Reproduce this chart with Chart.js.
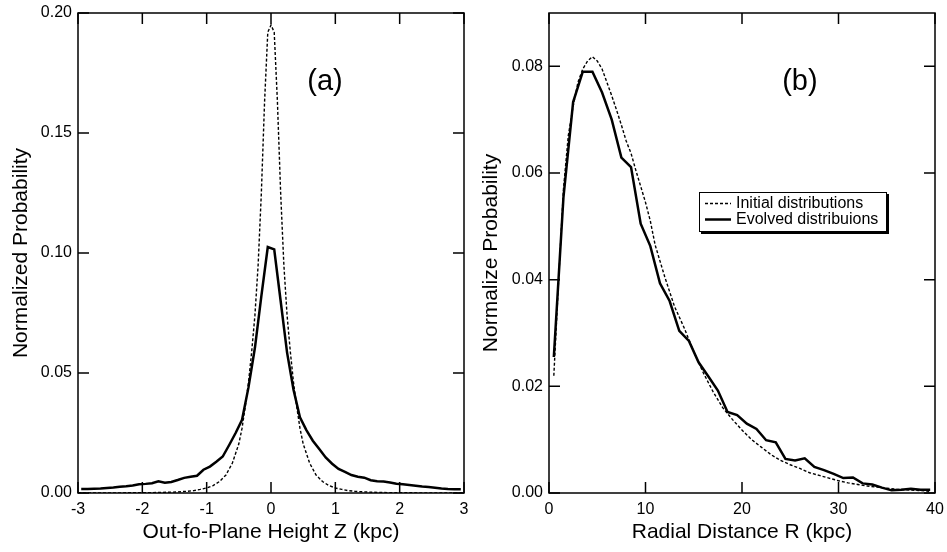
<!DOCTYPE html>
<html><head><meta charset="utf-8">
<script src="https://cdn.jsdelivr.net/npm/chart.js@4.4.1/dist/chart.umd.min.js"></script>
<style>
html,body{margin:0;padding:0;background:#fff;width:947px;height:552px;overflow:hidden;}
canvas{position:absolute;top:0;}
#ca{left:0;} #cb{left:470px;}
</style></head><body>
<canvas id="ca" width="470" height="552"></canvas>
<canvas id="cb" width="477" height="552"></canvas>
<script>
// ---------- Panel (a): out-of-plane height ----------
const zEvolved = [-2.95,-2.85,-2.75,-2.65,-2.55,-2.45,-2.35,-2.25,-2.15,-2.05,
  -1.95,-1.85,-1.75,-1.65,-1.55,-1.45,-1.35,-1.25,-1.15,-1.05,
  -0.95,-0.85,-0.75,-0.65,-0.55,-0.45,-0.35,-0.25,-0.15,-0.05,
  0.05,0.15,0.25,0.35,0.45,0.55,0.65,0.75,0.85,0.95,
  1.05,1.15,1.25,1.35,1.45,1.55,1.65,1.75,1.85,1.95,
  2.05,2.15,2.25,2.35,2.45,2.55,2.65,2.75,2.85,2.95];
const pEvolvedZ = [0.0017,0.0017,0.0018,0.0019,0.0021,0.0023,0.0026,0.0028,0.0031,0.0036,
  0.0038,0.0041,0.0049,0.0043,0.0046,0.0054,0.0063,0.0068,0.0072,0.0097,
  0.0110,0.0130,0.0152,0.0200,0.0250,0.0305,0.0440,0.0605,0.0820,0.1025,
  0.1015,0.0800,0.0585,0.0430,0.0315,0.0262,0.0218,0.0183,0.0148,0.0122,
  0.0100,0.0088,0.0075,0.0068,0.0064,0.0053,0.0049,0.0048,0.0044,0.0039,
  0.0036,0.0033,0.0030,0.0027,0.0025,0.0022,0.0019,0.0017,0.0016,0.0016];
const zInitial = [-3,-2.5,-2,-1.75,-1.5,-1.3,-1.2,-1.1,-1.0,-0.9,-0.8,-0.7,-0.6,-0.5,-0.45,-0.4,-0.35,-0.3,-0.25,-0.2,-0.15,-0.1,-0.05,
  0,0.05,0.1,0.15,0.2,0.25,0.3,0.35,0.4,0.45,0.5,0.6,0.7,0.8,0.9,1.0,1.1,1.2,1.3,1.5,1.75,2,2.5,3];
const pInitialZ = [0,0.00005,0.0001,0.0002,0.0004,0.0007,0.0010,0.0015,0.0021,0.0031,0.0048,0.0075,0.0125,0.0205,0.027,0.036,0.046,0.059,0.074,0.095,0.125,0.163,0.192,
  0.195,0.192,0.163,0.125,0.095,0.074,0.059,0.046,0.036,0.027,0.0205,0.0125,0.0075,0.0048,0.0031,0.0021,0.0015,0.0010,0.0007,0.0004,0.0002,0.0001,0.00005,0];
const zTicks = {min: -3, max: 3, step: 1};
const pzTicks = {min: 0, max: 0.20, step: 0.05};

// ---------- Panel (b): radial distance ----------
const rEvolved = [0.5,1.5,2.5,3.5,4.5,5.5,6.5,7.5,8.5,9.5,10.5,11.5,12.5,13.5,14.5,15.5,16.5,17.5,18.5,19.5,
  20.5,21.5,22.5,23.5,24.5,25.5,26.5,27.5,28.5,29.5,30.5,31.5,32.5,33.5,34.5,35.5,36.5,37.5,38.5,39.5];
const pEvolvedR = [0.0255,0.0555,0.0733,0.0790,0.0790,0.0751,0.0700,0.0629,0.0611,0.0505,
  0.0463,0.0393,0.0360,0.0304,0.0285,0.0245,0.0219,0.0192,0.0152,0.0146,
  0.0130,0.0120,0.0099,0.0095,0.0064,0.0061,0.0065,0.0049,0.0043,0.0036,
  0.0028,0.0029,0.0018,0.0016,0.0010,0.0005,0.0006,0.0008,0.0006,0.0006];
const rInitial = [0.5,1,1.5,2,2.5,3,3.5,4,4.5,5,5.5,6,6.5,7,7.5,8,8.5,9,9.5,10,10.5,11,12,13,14,15,16,17,18,19,
  20,21,22,23,24,25,26,27,28,29,30,31,32,33,34,35,36,37,38,39,39.5];
const pInitialR = [0.022,0.040,0.057,0.067,0.0725,0.077,0.0795,0.081,0.0818,0.081,0.0795,0.077,0.0745,0.0718,0.069,0.066,0.0637,0.0605,0.0575,0.0545,0.051,0.0465,0.0405,0.035,0.031,0.0265,0.0225,0.0190,0.0160,0.0138,
  0.0118,0.0100,0.0086,0.0072,0.0061,0.0053,0.0046,0.0038,0.0033,0.0028,0.0023,0.0019,0.0016,0.0013,0.0011,0.0009,0.0007,0.0006,0.0005,0.0004,0.0003];
const rTicks = {min: 0, max: 40, step: 10};
const prTicks = {min: 0, max: 0.09, step: 0.02};

const labelsB = ['Initial distributions', 'Evolved distribuions'];

const FONT = "'Liberation Sans', Arial, Helvetica, sans-serif";
Chart.defaults.font.family = FONT;
Chart.defaults.color = '#000';

const toXY = (xs, ys) => xs.map((x, i) => ({x: x, y: ys[i]}));

const framePlugin = {
  id: 'frame',
  afterDatasetsDraw(chart, args, opts) {
    const {ctx, chartArea: a, scales} = chart;
    ctx.save();
    ctx.strokeStyle = '#000';
    ctx.lineWidth = 1.5;
    ctx.setLineDash([]);
    ctx.strokeRect(a.left, a.top, a.right - a.left, a.bottom - a.top);
    const L = 11;
    ctx.beginPath();
    scales.x.ticks.forEach(t => {
      const p = scales.x.getPixelForValue(t.value);
      ctx.moveTo(p, a.bottom); ctx.lineTo(p, a.bottom - L);
      ctx.moveTo(p, a.top); ctx.lineTo(p, a.top + L);
    });
    scales.y.ticks.forEach(t => {
      const p = scales.y.getPixelForValue(t.value);
      ctx.moveTo(a.left, p); ctx.lineTo(a.left + L, p);
      ctx.moveTo(a.right, p); ctx.lineTo(a.right - L, p);
    });
    ctx.stroke();
    // panel label
    ctx.fillStyle = '#000';
    ctx.font = '29px ' + FONT;
    ctx.textAlign = 'center';
    ctx.textBaseline = 'middle';
    ctx.fillText(opts.label, a.left + (a.right - a.left) * opts.lx, a.top + (a.bottom - a.top) * opts.ly);
    // legend
    if (opts.legend) {
      const bx = a.left + 150, by = a.top + 179, bw = 188, bh = 40;
      ctx.fillStyle = '#000';
      ctx.fillRect(bx + 2, by + 2, bw, bh);
      ctx.fillStyle = '#fff';
      ctx.fillRect(bx, by, bw, bh);
      ctx.lineWidth = 1;
      ctx.strokeStyle = '#000';
      ctx.strokeRect(bx + 0.5, by + 0.5, bw - 1, bh - 1);
      chart.data.datasets.forEach((ds, i) => {
        const y = by + 11.5 + i * 16;
        ctx.setLineDash(ds.borderDash || []);
        ctx.lineWidth = ds.borderWidth;
        ctx.strokeStyle = '#000';
        ctx.beginPath(); ctx.moveTo(bx + 6, y); ctx.lineTo(bx + 32, y); ctx.stroke();
        ctx.setLineDash([]);
        ctx.fillStyle = '#000';
        ctx.font = '16px ' + FONT;
        ctx.textAlign = 'left';
        ctx.textBaseline = 'middle';
        ctx.fillText(ds.label, bx + 37, y + 0.5);
      });
    }
    ctx.restore();
  }
};

function makeChart(id, cfg) {
  const xAxis = {
    type: 'linear', min: cfg.xt.min, max: cfg.xt.max,
    grid: {display: false, drawTicks: false},
    border: {display: false},
    ticks: {stepSize: cfg.xt.step, padding: 7, font: {size: 16}, color: '#000', maxRotation: 0,
      callback: v => String(v)},
    title: {display: true, text: cfg.xTitle, font: {size: 21}, color: '#000', padding: {top: 0, bottom: 7}},
    afterFit: s => { s.height = 59; s.paddingLeft = 0; s.paddingRight = 0; }
  };
  const yAxis = {
    type: 'linear', min: cfg.yt.min, max: cfg.yt.max,
    grid: {display: false, drawTicks: false},
    border: {display: false},
    ticks: {stepSize: cfg.yt.step, padding: 6, font: {size: 16}, color: '#000', includeBounds: false,
      callback: v => Number(v).toFixed(2)},
    title: {display: true, text: cfg.yTitle, font: {size: 21}, color: '#000', padding: {top: 9, bottom: 0}},
    afterFit: s => { s.width = cfg.yW; s.paddingTop = 0; s.paddingBottom = 0; }
  };
  return new Chart(document.getElementById(id), {
    type: 'line',
    data: {datasets: cfg.datasets},
    options: {
      responsive: false, animation: false, devicePixelRatio: 1,
      layout: {padding: {left: 0, top: 13, right: cfg.padR, bottom: 0}},
      plugins: {legend: {display: false}, tooltip: {enabled: false}, frame: cfg.frame},
      elements: {point: {radius: 0}, line: {tension: 0}},
      scales: {x: xAxis, y: yAxis}
    },
    plugins: [framePlugin]
  });
}

makeChart('ca', {
  xt: zTicks, yt: pzTicks, yW: 78, padR: 6,
  xTitle: 'Out-fo-Plane Height Z (kpc)', yTitle: 'Normalized Probability',
  frame: {label: '(a)', lx: 0.64, ly: 0.144, legend: false},
  datasets: [
    {label: 'Initial distributions', data: toXY(zInitial, pInitialZ), borderColor: '#000', borderWidth: 1.4, borderDash: [3, 2], fill: false},
    {label: 'Evolved distribuions', data: toXY(zEvolved, pEvolvedZ), borderColor: '#000', borderWidth: 2.5, fill: false}
  ]
});

makeChart('cb', {
  xt: rTicks, yt: prTicks, yW: 79, padR: 12,
  xTitle: 'Radial Distance R (kpc)', yTitle: 'Normalize Probability',
  frame: {label: '(b)', lx: 0.65, ly: 0.144, legend: true},
  datasets: [
    {label: labelsB[0], data: toXY(rInitial, pInitialR), borderColor: '#000', borderWidth: 1.4, borderDash: [3, 2], fill: false},
    {label: labelsB[1], data: toXY(rEvolved, pEvolvedR), borderColor: '#000', borderWidth: 2.5, fill: false}
  ]
});
</script>
</body></html>
